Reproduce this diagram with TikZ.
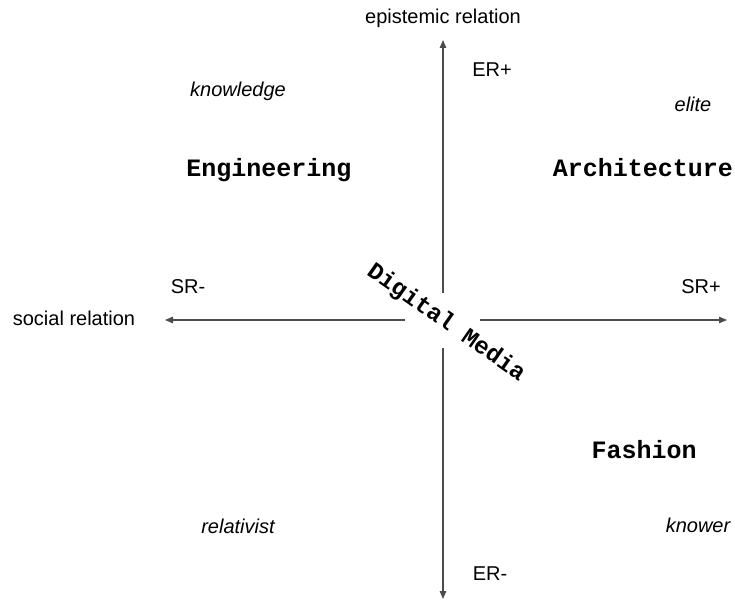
\documentclass[tikz,border=0pt]{standalone}
\usepackage{fontspec}
\setmainfont{Liberation Sans}
\newfontfamily\courier{Liberation Mono}
\usetikzlibrary{arrows.meta}

\tikzset{
  axis/.style={draw=black!70, line width=1.2pt, -{Triangle[length=8pt,width=6.5pt]}},
  lbl/.style={anchor=base, inner sep=0pt, font=\fontsize{20}{24}\selectfont},
  pole/.style={lbl, font=\fontsize{20}{24}\selectfont\itshape},
  field/.style={anchor=base, inner sep=0pt, font=\fontsize{25}{30}\selectfont\courier\bfseries},
}

\begin{document}
\begin{tikzpicture}[x=1pt, y=-1pt]
    \useasboundingbox (0,0) rectangle (735,601);
    % axis ends, leaving a gap round the middle
    \coordinate (up0) at (443,293);   \coordinate (up1) at (443,40);
    \coordinate (dn0) at (443,348);   \coordinate (dn1) at (443,599);
    \coordinate (lf0) at (405,320);   \coordinate (lf1) at (165,320);
    \coordinate (rt0) at (480,320);   \coordinate (rt1) at (727,320);
    \draw[axis] (up0) -- (up1);
    \draw[axis] (dn0) -- (dn1);
    \draw[axis] (lf0) -- (lf1);
    \draw[axis] (rt0) -- (rt1);
    % axis labels
    \node[lbl] (er) at (443,24) {epistemic relation};
    \node[lbl] (sr) at (74,325) {social relation};
    \node[lbl] (erp) at (492,77) {ER+};
    \node[lbl] (erm) at (490,580) {ER-};
    \node[lbl] (srm) at (188,293) {SR-};
    \node[lbl] (srp) at (701,293) {SR+};
    % codes in the quadrants
    \node[pole] (know) at (238,97) {knowledge};
    \node[pole] (elite) at (693,112) {elite};
    \node[pole] (rel) at (238,533) {relativist};
    \node[pole] (knower) at (698,532) {knower};
    \node[field] (eng) at (269,177) {Engineering};
    \node[field] (arch) at (643,177) {Architecture};
    \node[field] (fash) at (644,458) {Fashion};
    \node[inner sep=0pt, rotate=-35, font=\fontsize{24}{28}\selectfont\courier\bfseries] (dm) at (446,323) {Digital Media};
\end{tikzpicture}
\end{document}
